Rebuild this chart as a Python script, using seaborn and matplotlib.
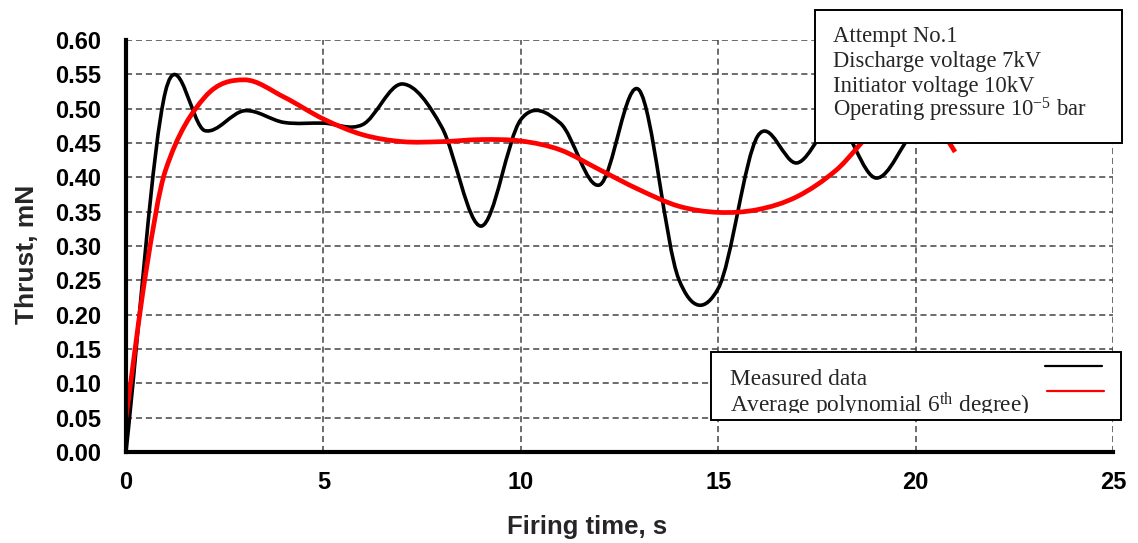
import numpy as np
import matplotlib
matplotlib.use("Agg")
import matplotlib.pyplot as plt
from matplotlib.path import Path
from matplotlib.patches import PathPatch, Rectangle
from matplotlib.lines import Line2D
import seaborn as sns

# ---- data ----
time_measured = [0, 1, 2, 3, 4, 5, 6, 7, 8, 9, 10, 11, 12, 13, 14, 15, 16, 17, 18, 19, 20, 21]
thrust_measured = [0.0, 0.525, 0.468, 0.497, 0.480, 0.479, 0.477, 0.536, 0.473, 0.329, 0.484,
                   0.479, 0.389, 0.527, 0.252, 0.238, 0.460, 0.421, 0.48, 0.399, 0.47, 0.50]
time_trend = [0, 0.5, 1, 2, 3, 4, 5, 6, 7, 8, 9, 10, 11, 12, 13, 14, 15, 16, 17, 18, 19, 20, 20.5, 21]
thrust_trend = [0.05, 0.26, 0.41, 0.517, 0.542, 0.517, 0.485, 0.462, 0.452, 0.452, 0.455, 0.453,
                0.44, 0.411, 0.382, 0.358, 0.349, 0.353, 0.372, 0.411, 0.47, 0.49, 0.48, 0.437]
x_ticks = [0, 5, 10, 15, 20, 25]
y_ticks = [0.00, 0.05, 0.10, 0.15, 0.20, 0.25, 0.30, 0.35, 0.40, 0.45, 0.50, 0.55, 0.60]
info_lines = ["Attempt No.1", "Discharge voltage 7kV", "Initiator voltage 10kV",
              "Operating pressure 10$^{\\rm{-}5}$ bar"]
legend_labels = ["Measured data", "Average polynomial 6$^{\\rm th}$ degree)"]

sns.set_style("white")
plt.rcParams["font.family"] = ["Liberation Sans", "DejaVu Sans"]
plt.rcParams["mathtext.fontset"] = "custom"
plt.rcParams["mathtext.rm"] = "Liberation Serif"
plt.rcParams["mathtext.it"] = "Liberation Serif:italic"
plt.rcParams["mathtext.bf"] = "Liberation Serif:bold"


def smooth_path(xs, ys):
    """Cubic Bezier path through the points (spreadsheet-style smoothed line)."""
    xs = np.asarray(xs, float)
    ys = np.asarray(ys, float)
    n = len(xs)
    m = np.zeros(n)
    for i in range(n):
        if i == 0:
            m[i] = (ys[1] - ys[0]) / (xs[1] - xs[0])
        elif i == n - 1:
            m[i] = (ys[-1] - ys[-2]) / (xs[-1] - xs[-2])
        else:
            m[i] = (ys[i + 1] - ys[i - 1]) / (xs[i + 1] - xs[i - 1])
    verts = [(xs[0], ys[0])]
    codes = [Path.MOVETO]
    for i in range(n - 1):
        dx = xs[i + 1] - xs[i]
        verts += [(xs[i] + dx / 3, ys[i] + m[i] * dx / 3),
                  (xs[i + 1] - dx / 3, ys[i + 1] - m[i + 1] * dx / 3),
                  (xs[i + 1], ys[i + 1])]
        codes += [Path.CURVE4] * 3
    return Path(verts, codes)


fig = plt.figure(figsize=(11.38, 5.43), dpi=100)
ax = fig.add_axes([0.1107, 0.1676, 0.8673, 0.7587])
ax.set_xlim(0, 25)
ax.set_ylim(0, 0.6)

ax.add_patch(PathPatch(smooth_path(time_measured, thrust_measured), fill=False,
                       edgecolor="black", lw=2.6, zorder=3, capstyle="round", joinstyle="round"))
ax.add_patch(PathPatch(smooth_path(time_trend, thrust_trend), fill=False,
                       edgecolor="#ff0000", lw=3.4, zorder=4, capstyle="butt", joinstyle="round"))

ax.set_xticks(x_ticks)
ax.set_yticks(y_ticks)
ax.set_yticklabels([f"{v:.2f}" for v in y_ticks])
ax.grid(True, color="#444444", linestyle=(0, (4, 2.5)), linewidth=1.1)
ax.set_axisbelow(True)
for s in ["top", "right"]:
    ax.spines[s].set_visible(False)
for s in ["left", "bottom"]:
    ax.spines[s].set_linewidth(3)
    ax.spines[s].set_color("black")
    ax.spines[s].set_zorder(5)
ax.tick_params(axis="y", direction="inout", length=14, width=2.5, pad=11,
               labelsize=17, colors="black")
ax.tick_params(axis="x", direction="out", length=5, width=3.5, pad=9,
               labelsize=17, colors="black")
for lab in ax.get_xticklabels() + ax.get_yticklabels():
    lab.set_fontweight("bold")

ax.set_ylabel("Thrust, mN", fontsize=19, fontweight="bold")
ax.yaxis.set_label_coords(-0.088, 0.479)
ax.set_xlabel("Firing time, s", fontsize=18.5, fontweight="bold")
ax.xaxis.set_label_coords(0.467, -0.153)

# info box (top right)
fig.patches.append(Rectangle((815 / 1138, 1 - 143 / 543), 307 / 1138, 133 / 543,
                             transform=fig.transFigure, facecolor="white",
                             edgecolor="black", lw=1.4, zorder=10))
for i, t in enumerate(info_lines):
    fig.text(833 / 1138, 1 - (42 + 25 * i) / 543, t, fontsize=16.3,
             family="Liberation Serif", va="baseline", ha="left", zorder=11)

# legend box (bottom right)
fig.patches.append(Rectangle((711 / 1138, 1 - 420 / 543), 410 / 1138, 68 / 543,
                             transform=fig.transFigure, facecolor="white",
                             edgecolor="black", lw=1.4, zorder=10))
clip_rect = Rectangle((711 / 1138, 1 - 413 / 543), 410 / 1138, 61 / 543,
                      transform=fig.transFigure, facecolor="none", edgecolor="none")
for i, t in enumerate(legend_labels):
    txt = fig.text(730 / 1138, 1 - (385 + 27 * i) / 543, t, fontsize=16.8,
                   family="Liberation Serif", va="baseline", ha="left", zorder=11)
    txt.set_clip_path(clip_rect)
fig.lines.append(Line2D([1045 / 1138, 1102 / 1138], [1 - 366 / 543, 1 - 366 / 543],
                        transform=fig.transFigure, color="black", lw=1.6, zorder=11))
fig.lines.append(Line2D([1047 / 1138, 1104 / 1138], [1 - 391 / 543, 1 - 391 / 543],
                        transform=fig.transFigure, color="#ff0000", lw=1.6, zorder=11))

fig.savefig("out.png", dpi=100)
